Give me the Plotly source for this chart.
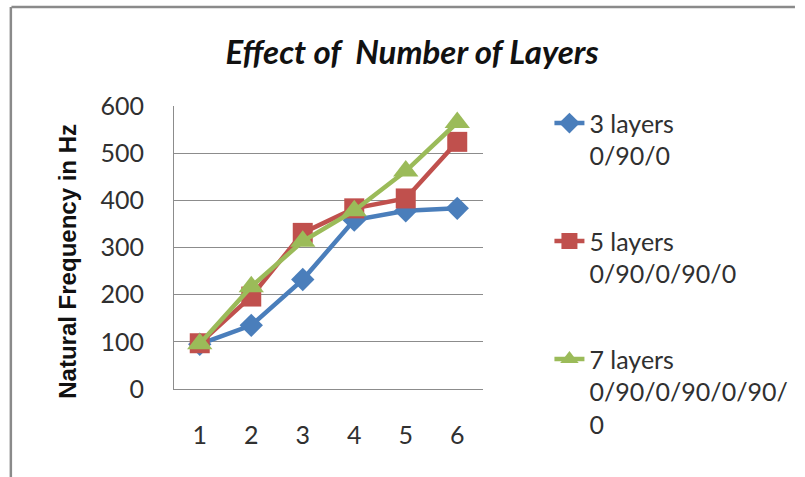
import plotly.graph_objects as go

# Number of modes / cases on the x axis
cases = ["1", "2", "3", "4", "5", "6"]

# Natural frequency (Hz) for each laminate stacking
freq_3_layers = [95, 135, 232, 358, 378, 383]
freq_5_layers = [97, 196, 331, 383, 404, 524]
freq_7_layers = [96, 217, 313, 378, 462, 565]

series_names = [
    "3 layers<br>0/90/0",
    "5 layers<br>0/90/0/90/0",
    "7 layers<br>0/90/0/90/0/90/<br>0",
]
colors = ["#4A7EBB", "#C0504D", "#9BBB59"]
symbols = ["diamond", "square", "triangle-up"]
marker_sizes = [18, 20, 22]

y_ticks = [0, 100, 200, 300, 400, 500, 600]

fig = go.Figure()
for i, vals in enumerate([freq_3_layers, freq_5_layers, freq_7_layers]):
    fig.add_trace(go.Scatter(
        x=cases,
        y=vals,
        name=series_names[i],
        legendgroup=f"g{i}",
        mode="lines+markers",
        line=dict(color=colors[i], width=4.5),
        marker=dict(symbol=symbols[i], size=marker_sizes[i], color=colors[i]),
    ))

fig.update_layout(
    width=805,
    height=477,
    margin=dict(l=174, r=317, t=106, b=88),
    paper_bgcolor="white",
    plot_bgcolor="white",
    font=dict(family="Lato, sans-serif", size=25, color="#303030"),
    title=dict(
        text="<b><i>Effect of  Number of Layers</i></b>",
        font=dict(family="Lato, sans-serif", size=33, color="#111111"),
        x=0.512, xanchor="center",
        y=0.89, yanchor="middle",
    ),
    xaxis=dict(
        type="category",
        range=[-0.5, 5.5],
        showgrid=False,
        showline=True,
        linecolor="#8c8c8c",
        linewidth=1,
        ticks="",
        tickfont=dict(size=25, color="#303030"),
        ticklabelstandoff=24,
    ),
    yaxis=dict(
        range=[0, 600],
        tickvals=y_ticks,
        showgrid=True,
        gridcolor="#8c8c8c",
        gridwidth=1,
        showline=True,
        linecolor="#8c8c8c",
        linewidth=1,
        ticks="",
        tickfont=dict(size=25, color="#303030"),
        ticklabelstandoff=24,
        zeroline=False,
    ),
    legend=dict(
        x=1.215, xanchor="left",
        y=1.02, yanchor="top",
        traceorder="grouped",
        tracegroupgap=50,
        valign="top",
        maxheight=470,
        font=dict(family="Lato, sans-serif", size=25, color="#303030"),
        bgcolor="rgba(0,0,0,0)",
    ),
    annotations=[
        dict(
            text="<b>Natural Frequency in Hz</b>",
            textangle=-90,
            xref="paper", yref="paper",
            x=(65 - 174) / 314, y=(389 - 261) / 283,
            xanchor="center", yanchor="middle",
            showarrow=False,
            font=dict(family="Liberation Sans, Arial, sans-serif", size=24, color="#111111"),
        )
    ],
    shapes=[
        dict(type="line", xref="paper", yref="paper",
             x0=-0.526, x1=1.0 + 317 / 314, y0=1.0 + 99 / 283, y1=1.0 + 99 / 283,
             line=dict(color="#8a8a8a", width=2.5)),
        dict(type="line", xref="paper", yref="paper",
             x0=-0.528, x1=-0.528, y0=-88 / 283, y1=1.0 + 99 / 283,
             line=dict(color="#8a8a8a", width=2.5)),
    ],
)

fig.write_html("out.html")
